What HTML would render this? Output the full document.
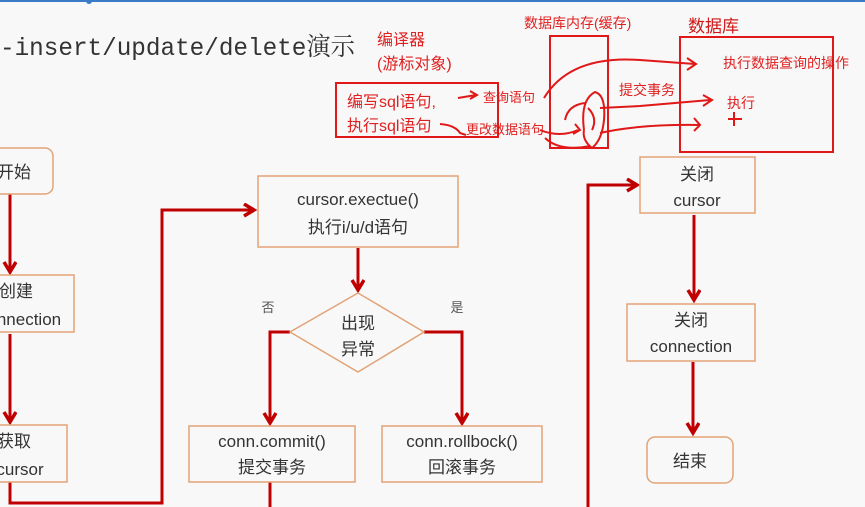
<!DOCTYPE html>
<html><head><meta charset="utf-8"><style>
html,body{margin:0;padding:0;width:865px;height:507px;overflow:hidden;background:#f8f8f8;}
svg{display:block}
text{font-family:"Liberation Sans","Noto Sans CJK SC",sans-serif;}
</style></head><body>
<svg width="865" height="507" viewBox="0 0 865 507" xmlns="http://www.w3.org/2000/svg">
<defs>
<marker id="a" markerWidth="16" markerHeight="16" refX="11" refY="7" orient="auto" markerUnits="userSpaceOnUse">
<path d="M1,1 L11,7 L1,13" fill="none" stroke="#c00000" stroke-width="3.5"/>
</marker>
</defs>
<rect x="0" y="0" width="865" height="2" fill="#3b7ac9"/>
<circle cx="89" cy="1" r="3" fill="#3b7ac9"/>
<text x="0" y="55" font-size="25" fill="#333" style='font-family:"Liberation Mono","Noto Serif CJK SC",monospace' textLength="355" lengthAdjust="spacingAndGlyphs">-insert/update/delete演示</text>

<g fill="none" stroke="#c00000" stroke-width="3">
<path d="M10,194 V272" marker-end="url(#a)"/>
<path d="M10,334 V422" marker-end="url(#a)"/>
<path d="M10,482 V503 H162 V210 H254" marker-end="url(#a)"/>
<path d="M358,248 V290" marker-end="url(#a)"/>
<path d="M290,332 H270 V423" marker-end="url(#a)"/>
<path d="M424,332 H462 V423" marker-end="url(#a)"/>
<path d="M270,482 V507"/>
<path d="M588,507 V185 H637" marker-end="url(#a)"/>
<path d="M694,215 V300" marker-end="url(#a)"/>
<path d="M693,362 V433" marker-end="url(#a)"/>
</g>

<g fill="#f8f8f8" stroke="#e2a377" stroke-width="1.5">
<rect x="-10" y="148" width="63" height="46" rx="8"/>
<rect x="-10" y="275" width="84" height="57"/>
<rect x="-10" y="425" width="77" height="57"/>
<rect x="258" y="176" width="200" height="71"/>
<path d="M358,293 L424,332 L358,372 L290,332 Z"/>
<rect x="189" y="426" width="166" height="56"/>
<rect x="382" y="426" width="160" height="56"/>
<rect x="640" y="157" width="115" height="56"/>
<rect x="627" y="304" width="128" height="57"/>
<rect x="647" y="437" width="86" height="46" rx="8"/>
</g>

<g font-size="17" fill="#333" text-anchor="middle">
<text x="14" y="178">开始</text>
<text x="16" y="297">创建</text>
<text x="20" y="325">connection</text>
<text x="14" y="447">获取</text>
<text x="20" y="475">cursor</text>
<text x="358" y="205">cursor.exectue()</text>
<text x="358" y="233">执行i/u/d语句</text>
<text x="358" y="329">出现</text>
<text x="358" y="355">异常</text>
<text x="272" y="447">conn.commit()</text>
<text x="272" y="473">提交事务</text>
<text x="462" y="447">conn.rollbock()</text>
<text x="462" y="473">回滚事务</text>
<text x="697" y="180">关闭</text>
<text x="697" y="206">cursor</text>
<text x="691" y="326">关闭</text>
<text x="691" y="352">connection</text>
<text x="690" y="467">结束</text>
<text x="268" y="312" font-size="13" fill="#555">否</text>
<text x="457" y="312" font-size="13" fill="#555">是</text>
</g>

<g fill="#e02020" font-size="16">
<text x="377" y="45">编译器</text>
<text x="377" y="69">(游标对象)</text>
<text x="347" y="107">编写sql语句,</text>
<text x="347" y="131">执行sql语句</text>
<text x="483" y="102" font-size="13">查询语句</text>
<text x="466" y="134" font-size="13">更改数据语句</text>
<text x="524" y="28" font-size="14">数据库内存(缓存)</text>
<text x="688" y="32" font-size="17" fill="#d01818">数据库</text>
<text x="723" y="68" font-size="14">执行数据查询的操作</text>
<text x="619" y="95" font-size="14">提交事务</text>
<text x="727" y="108" font-size="14">执行</text>
</g>
<g fill="none" stroke="#e01818" stroke-width="2">
<rect x="336" y="83" width="162" height="54"/>
<rect x="550" y="36" width="58" height="112"/>
<rect x="680" y="37" width="153" height="115"/>
<path d="M458,98 L476,95 M470,91 L477,95 L470,99"/>
<path d="M440,124 Q455,125 460,133 L466,135"/>
<path d="M544,98 Q570,55 640,60 L695,64 M687,58 L696,64 L687,70"/>
<path d="M540,130 Q560,138 578,130 M575,124 L580,130 L573,134"/>
<path d="M565,120 Q568,105 585,103"/>
<path d="M584,130 Q580,100 595,92 Q606,95 604,120 Q602,140 592,148 Q582,140 584,130"/>
<path d="M588,108 Q598,118 592,130"/>
<path d="M600,108 L640,106 L710,100 M703,95 L712,100 L703,106"/>
<path d="M600,133 Q640,124 700,125 M694,118 L700,125 L694,131"/>
<path d="M545,138 Q560,152 590,146"/>
<path d="M734,112 V126 M728,119 H742"/>
</g>
</svg>
</body></html>
